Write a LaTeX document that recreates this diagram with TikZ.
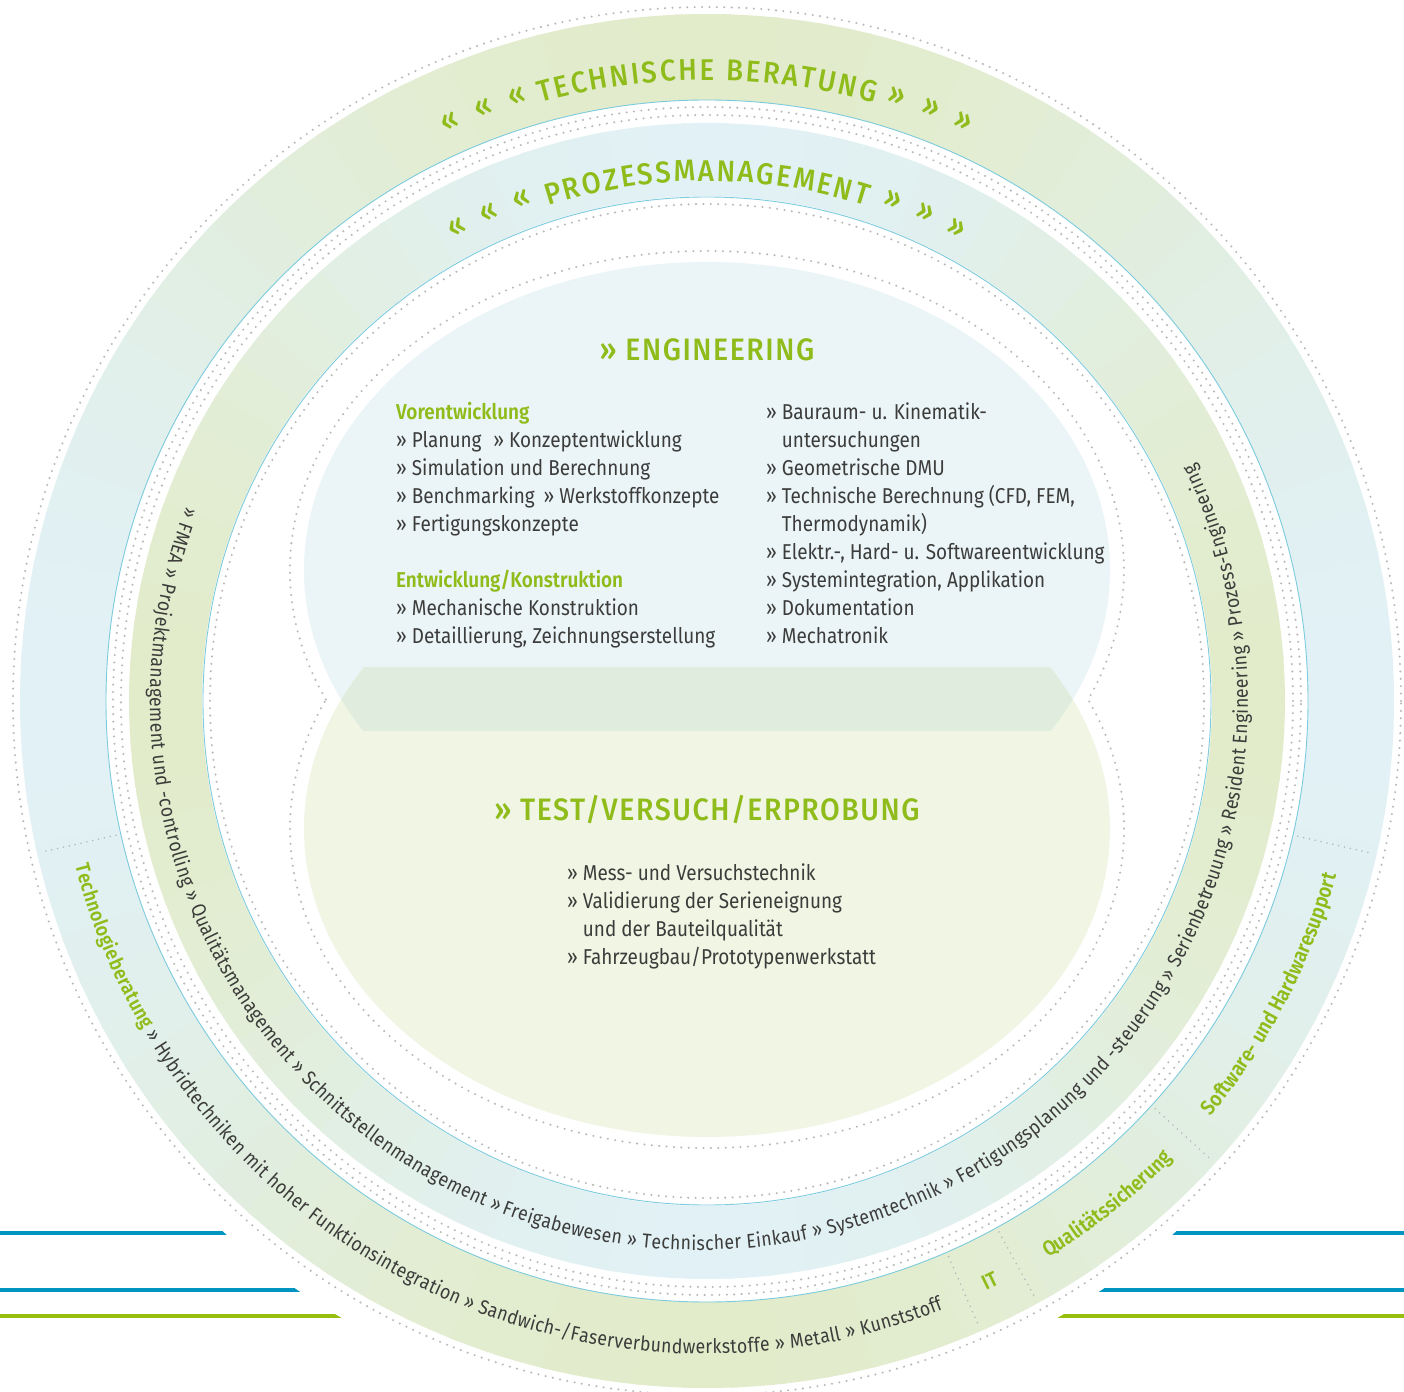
\documentclass[tikz,border=0pt]{standalone}
\usepackage{fontspec}
\setmainfont{Fira Sans}[FakeStretch=0.88]
\newfontfamily\semifont{Fira Sans SemiBold}[FakeStretch=0.88]
\newfontfamily\medfont{Fira Sans Medium}[FakeStretch=0.92]
\newfontfamily\kopffont{Fira Sans Medium}[FakeStretch=0.92, LetterSpace=5]
\usetikzlibrary{decorations.text}

\definecolor{gruen}{RGB}{143,188,27}
\definecolor{grau}{RGB}{60,60,59}
\definecolor{bandgruen}{RGB}{226,236,203}
\definecolor{bandblau}{RGB}{225,241,245}
\definecolor{ellblau}{RGB}{235,245,248}
\definecolor{ellgruen}{RGB}{240,245,228}
\definecolor{ellmisch}{RGB}{224,237,222}
\definecolor{linie}{RGB}{125,203,222}
\definecolor{punkt}{RGB}{185,185,185}
\definecolor{balkenblau}{RGB}{0,148,192}
\definecolor{balkengruen}{RGB}{150,191,13}

\begin{document}
\begin{tikzpicture}[x=1pt, y=1pt]

\tikzstyle punkte=[punkt, line width=2.3pt, line cap=round, dash pattern=on 0pt off 7.4pt]
\tikzstyle trenner=[punkt, line width=1.8pt, line cap=round, dash pattern=on 0pt off 6pt]
\tikzstyle rand=[linie, line width=0.9pt]
\tikzstyle balken=[line width=3.2pt]
\tikzstyle fliess=[grau, font=\fontsize{21.5}{28}\selectfont, anchor=base west, inner sep=0pt]
\tikzstyle kopf=[gruen, font=\kopffont\fontsize{31}{36}\selectfont, anchor=base, inner sep=0pt]
\tikzstyle guil=[gruen, font=\medfont\fontsize{30}{36}\selectfont, inner sep=0pt]
\tikzstyle ringlabel=[gruen, font=\semifont\fontsize{21}{24}\selectfont, inner sep=0pt]

\useasboundingbox (-707,-690) rectangle (697,701);

% Balken unten
\draw [balken, balkenblau] (-707,-532) -- (697,-532);
\draw [balken, balkenblau] (-707,-589) -- (697,-589);
\draw [balken, balkengruen] (-707,-615) -- (697,-615);
\fill [white] (-7.5,0) circle [radius=713];

% Ringe
\foreach \a in {0,4,...,356}
{
\pgfmathsetmacro\b{\a+4.6}
\pgfmathsetmacro\p{50+50*cos(2*\a+4)}
\fill [bandblau!\p!bandgruen] (\a:601) arc [start angle=\a, end angle=\b, radius=601] -- (\b:687) arc [start angle=\b, end angle=\a, radius=687] -- cycle;
\fill [bandgruen!\p!bandblau] (\a:505) arc [start angle=\a, end angle=\b, radius=505] -- (\b:578) arc [start angle=\b, end angle=\a, radius=578] -- cycle;
}

\draw [punkte] (0,0) circle [radius=694];
\draw [punkte] (0,0) circle [radius=594];
\draw [punkte] (0,0) circle [radius=586];
\draw [punkte] (0,0) circle [radius=497];
\draw [rand] (0,0) circle [radius=601];
\draw [rand] (0,0) circle [radius=504];

\foreach \a in {192.8,293.5,298.8,317.7,347.1}
\draw [trenner] (\a:606) -- (\a:682);

% Engineering und Test
\begin{scope}
\clip (-420,-30) rectangle (420,450);
\fill [ellblau] (0,131) ellipse [x radius=403, y radius=308];
\end{scope}
\begin{scope}
\clip (-420,33) rectangle (420,-450);
\fill [ellgruen] (0,-128) ellipse [x radius=403, y radius=308];
\end{scope}
\begin{scope}
\clip (-420,-30) rectangle (420,33);
\clip (0,131) ellipse [x radius=403, y radius=308];
\fill [ellmisch] (0,-128) ellipse [x radius=403, y radius=308];
\end{scope}

\draw [punkte] (-381.1,1.5) arc [start angle=203.95, end angle=-23.95, x radius=417, y radius=319]
  arc [start angle=23.95, end angle=-203.95, x radius=417, y radius=319];

% Titel in den Ringen
\path [decorate, decoration={text along path, text align=fit to path,
  text={|\medfont\fontsize{30}{36}\selectfont\color{gruen}|TECHNISCHE BERATUNG}}]
  (105.6:621) arc [start angle=105.6, end angle=74.4, radius=621];
\path [decorate, decoration={text along path, text align=fit to path,
  text={|\medfont\fontsize{30}{36}\selectfont\color{gruen}|PROZESSMANAGEMENT}}]
  (107.8:520) arc [start angle=107.8, end angle=72.2, radius=520];

\foreach \a [count=\i] in {113.9,110.7,107.4}
\node (tl\i) [guil, rotate=\a-90] at (\a:634) {«};
\foreach \a [count=\i] in {72.6,69.3,66.1}
\node (tr\i) [guil, rotate=\a-90] at (\a:634) {»};
\foreach \a [count=\i] in {117.8,114.1,110.3}
\node (pl\i) [guil, rotate=\a-90] at (\a:535) {«};
\foreach \a [count=\i] in {69.7,65.9,62.2}
\node (pr\i) [guil, rotate=\a-90] at (\a:535) {»};

% Texte entlang der Ringe
\path [decorate, decoration={text along path, text align=fit to path,
  text={|\fontsize{20}{24}\selectfont\color{grau}|» FMEA » Projektmanagement und -controlling » Qualitätsmanagement » Schnittstellenmanagement » Freigabewesen » Technischer Einkauf » Systemtechnik » Fertigungsplanung und -steuerung » Serienbetreuung » Resident Engineering » Prozess-Engineering}}]
  ([shift={(-8,0)}]159.3:549) arc [start angle=159.3, end angle=385.6, radius=549];

\path [decorate, decoration={text along path, text align=fit to path,
  text={|\semifont\fontsize{20}{24}\selectfont\color{gruen}|Technologieberatung |\fontsize{20}{24}\selectfont\color{grau}|» Hybridtechniken mit hoher Funktionsintegration » Sandwich-/Faserverbundwerkstoffe » Metall » Kunststoff}}]
  (194.6:653) arc [start angle=194.6, end angle=291.1, radius=653];

\node (it) [ringlabel, rotate=26] at (296:645) {IT};
\path [decorate, decoration={text along path, text align=center,
  text={|\semifont\fontsize{21}{24}\selectfont\color{gruen}|Qualitätssicherung}}]
  (299.5:653) arc [start angle=299.5, end angle=317.5, radius=653];
\path [decorate, decoration={text along path, text align=center,
  text={|\semifont\fontsize{21}{24}\selectfont\color{gruen}|Software- und Hardwaresupport}}]
  (318.5:653) arc [start angle=318.5, end angle=346.5, radius=653];

% Inhalt Mitte
\node (eng) [kopf] at (0,340) {» ENGINEERING};
\node (test) [kopf] at (0,-119) {» TEST/VERSUCH/ERPROBUNG};

\foreach \t [count=\i from 0] in {{\semifont\color{gruen}Vorentwicklung}, {» Planung\hspace{12pt}» Konzeptentwicklung}, {» Simulation und Berechnung}, {» Benchmarking\hspace{9pt}» Werkstoffkonzepte}, {» Fertigungskonzepte}}
\node (vor\i) [fliess] at (-311,281-28*\i) {\t};

\foreach \t [count=\i from 0] in {{\semifont\color{gruen}Entwicklung/Konstruktion}, {» Mechanische Konstruktion}, {» Detaillierung, Zeichnungserstellung}}
\node (ent\i) [fliess] at (-311,113-28*\i) {\t};

\foreach \t [count=\i from 0] in {{» Bauraum- u. Kinematik-}, {\phantom{» }untersuchungen}, {» Geometrische DMU}, {» Technische Berechnung (CFD, FEM,}, {\phantom{» }Thermodynamik)}, {» Elektr.-, Hard- u. Softwareentwicklung}, {» Systemintegration, Applikation}, {» Dokumentation}, {» Mechatronik}}
\node (rec\i) [fliess] at (59,281-28*\i) {\t};

\foreach \t [count=\i from 0] in {{» Mess- und Versuchstechnik}, {» Validierung der Serieneignung}, {\phantom{» }und der Bauteilqualität}, {» Fahrzeugbau/Prototypenwerkstatt}}
\node (ver\i) [fliess] at (-140,-179-28*\i) {\t};

\end{tikzpicture}
\end{document}
